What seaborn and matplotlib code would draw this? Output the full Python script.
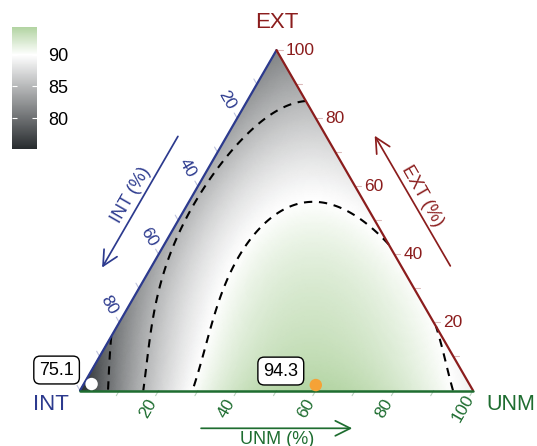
import numpy as np
import pandas as pd
import matplotlib
matplotlib.use("Agg")
import matplotlib.pyplot as plt
import matplotlib.tri as mtri
from matplotlib.colors import LinearSegmentedColormap, Normalize
from matplotlib.cm import ScalarMappable
import seaborn as sns

# ---- fitted mixture model for the response (components: INT, EXT, UNM) ----
linear_coef = [75.1, 81.3, 88.95]      # pure INT, EXT, UNM
binary_coef = [24.5, 47.99, 18.1]      # INT*EXT, INT*UNM, EXT*UNM
cubic_coef = [7.0, 12.98, 2.9]         # x_i*x_j*(x_i - x_j) for the same pairs
ternary_coef = [-37.2, 97.4]           # INT*EXT*UNM, INT*EXT^2*UNM
contour_levels = [80, 85, 90]

# ---- highlighted blends (fractions) and their response values ----
point_int = [0.961, 0.392]
point_ext = [0.019, 0.016]
point_unm = [0.020, 0.592]
point_value = [75.1, 94.3]
point_color = ["#ffffff", "#f5a236"]

# ---- axes ----
axis_colors = {"INT": "#2c3a8e", "EXT": "#8b1d1d", "UNM": "#1e6d30"}
unm_ticks = [20, 40, 60, 80, 100]
ext_ticks = [20, 40, 60, 80, 100]
int_ticks = [20, 40, 60, 80]
minor_ticks = list(range(10, 101, 10))
colorbar_ticks = [80, 85, 90]
low_color, mid_color, high_color = "#272b2e", "#ffffff", "#b3d4a3"
mid_value = 90

sns.set_theme(style="white")
plt.rcParams["font.family"] = ["Liberation Sans", "DejaVu Sans"]

H = np.sqrt(3) / 2


def to_xy(f_int, f_ext, f_unm):
    f_ext = np.asarray(f_ext, float)
    f_unm = np.asarray(f_unm, float)
    return f_unm + 0.5 * f_ext, H * f_ext


def response(x1, x2, x3):
    b1, b2, b3 = linear_coef
    b12, b13, b23 = binary_coef
    d12, d13, d23 = cubic_coef
    b123, b1223 = ternary_coef
    return (b1 * x1 + b2 * x2 + b3 * x3
            + b12 * x1 * x2 + b13 * x1 * x3 + b23 * x2 * x3
            + d12 * x1 * x2 * (x1 - x2) + d13 * x1 * x3 * (x1 - x3)
            + d23 * x2 * x3 * (x2 - x3)
            + b123 * x1 * x2 * x3 + b1223 * x1 * x2 ** 2 * x3)


# regular lattice over the simplex
n = 180
ii, jj = np.meshgrid(np.arange(n + 1), np.arange(n + 1))
keep = ii + jj <= n
g_unm = ii[keep] / n
g_ext = jj[keep] / n
g_int = np.clip(1 - g_unm - g_ext, 0, 1)
gx, gy = to_xy(g_int, g_ext, g_unm)
gz = response(g_int, g_ext, g_unm)
tri = mtri.Triangulation(gx, gy)

vmin, vmax = gz.min(), gz.max()
mid = (mid_value - vmin) / (vmax - vmin)
cmap = LinearSegmentedColormap.from_list(
    "mix", [(0.0, low_color), (mid, mid_color), (1.0, high_color)])
norm = Normalize(vmin=vmin, vmax=vmax)

W, Hpx = 537, 446
scale = 393.0
x0_px, y0_px = 80.0, 390.5

fig = plt.figure(figsize=(W / 100, Hpx / 100), dpi=100)
ax = fig.add_axes([0, 0, 1, 1])
ax.set_axis_off()

ax.tripcolor(tri, gz, shading="gouraud", cmap=cmap, norm=norm, rasterized=True)
ax.tricontour(tri, gz, levels=contour_levels, colors="black",
              linewidths=1.5, linestyles=[(0, (4.0, 3.2))])

# triangle edges
ax.plot([0, 0.5], [0, H], color=axis_colors["INT"], lw=1.6, solid_capstyle="round", zorder=4)
ax.plot([0.5, 1], [H, 0], color=axis_colors["EXT"], lw=1.6, solid_capstyle="round", zorder=4)
ax.plot([0, 1], [0, 0], color=axis_colors["UNM"], lw=1.8, solid_capstyle="round", zorder=4)

tick_len = 6 / scale
tick_fs = 12.5
axis_specs = {
    # name: (position on edge, outward direction, labels, label offset px, rotation, ha)
    "UNM": (lambda v: to_xy(1 - v, 0, v), np.array([-0.5, -H]), unm_ticks, 20.5, 60, "center"),
    "EXT": (lambda v: to_xy(0, v, 1 - v), np.array([1.0, 0.0]), ext_ticks, 9.0, 0, "left"),
    "INT": (lambda v: to_xy(v, 1 - v, 0), np.array([-0.5, H]), int_ticks, 20.5, -60, "center"),
}
for name, (pos, d, labels, off, rot, ha) in axis_specs.items():
    col = axis_colors[name]
    for t in minor_ticks:
        px, py = pos(t / 100)
        ax.plot([px, px + d[0] * tick_len], [py, py + d[1] * tick_len],
                color=col, alpha=0.3, lw=0.8, zorder=3)
    for t in labels:
        px, py = pos(t / 100)
        ax.text(px + d[0] * off / scale, py + d[1] * off / scale, str(t),
                color=col, fontsize=tick_fs, rotation=rot,
                ha=ha, va="center", rotation_mode="anchor" if ha == "left" else "default")


def px2d(xp, yp):
    return (xp - x0_px) / scale, (y0_px - yp) / scale


arrow_kw = dict(arrowstyle="->,head_length=0.9,head_width=0.45", lw=1.25, mutation_scale=12)
title_fs = 13
# INT direction arrow and title
ax.annotate("", xy=px2d(100.7, 270), xytext=px2d(179.3, 134),
            arrowprops=dict(color=axis_colors["INT"], **arrow_kw))
ax.text(*px2d(131.0, 195), "INT (%)", color=axis_colors["INT"], fontsize=title_fs,
        rotation=60, ha="center", va="center")
# EXT direction arrow and title
ax.annotate("", xy=px2d(373.3, 133.3), xytext=px2d(451.7, 268.3),
            arrowprops=dict(color=axis_colors["EXT"], **arrow_kw))
ax.text(*px2d(422.5, 196.0), "EXT (%)", color=axis_colors["EXT"], fontsize=title_fs,
        rotation=-60, ha="center", va="center")
# UNM direction arrow and title
ax.annotate("", xy=px2d(355, 428.3), xytext=px2d(198.3, 428.3),
            arrowprops=dict(color=axis_colors["UNM"], **arrow_kw))
ax.text(*px2d(276.7, 439), "UNM (%)", color=axis_colors["UNM"], fontsize=title_fs,
        ha="center", va="center")

# vertex names
ax.text(*px2d(276.5, 23), "EXT", color=axis_colors["EXT"], fontsize=16, ha="center", va="center")
ax.text(*px2d(51, 405), "INT", color=axis_colors["INT"], fontsize=16, ha="center", va="center")
ax.text(*px2d(535, 405), "UNM", color=axis_colors["UNM"], fontsize=15.5, ha="right", va="center")

# highlighted blends
qx, qy = to_xy(point_int, point_ext, point_unm)
pts = pd.DataFrame({"x": qx, "y": qy, "value": [f"{v:.1f}" for v in point_value]})
sns.scatterplot(data=pts, x="x", y="y", hue="value",
                palette=dict(zip(pts["value"], point_color)),
                s=80, linewidth=0, legend=False, ax=ax, zorder=6)
for _, r in pts.iterrows():
    ax.annotate(r["value"], xy=(r["x"], r["y"]), xytext=(-35, 14), textcoords="offset pixels",
                ha="center", va="center", fontsize=13, color="black", zorder=7,
                bbox=dict(boxstyle="round,pad=0.3,rounding_size=0.35",
                          fc="white", ec="black", lw=1.0))

ax.set_xlim(-x0_px / scale, (W - x0_px) / scale)
ax.set_ylim(-(Hpx - y0_px) / scale, y0_px / scale)

# colour bar
cax = fig.add_axes([12.3 / W, (Hpx - 149.3) / Hpx, 24.4 / W, 122 / Hpx])
cb = fig.colorbar(ScalarMappable(norm=norm, cmap=cmap), cax=cax)
cb.outline.set_visible(False)
cb.set_ticks(colorbar_ticks)
cax.tick_params(length=0, labelsize=13, pad=8, colors="black")
for t in colorbar_ticks:
    cax.hlines(t, 0, 0.2, color="white", lw=0.8)
    cax.hlines(t, 0.8, 1, color="white", lw=0.8)

fig.savefig("out.png", dpi=100)
